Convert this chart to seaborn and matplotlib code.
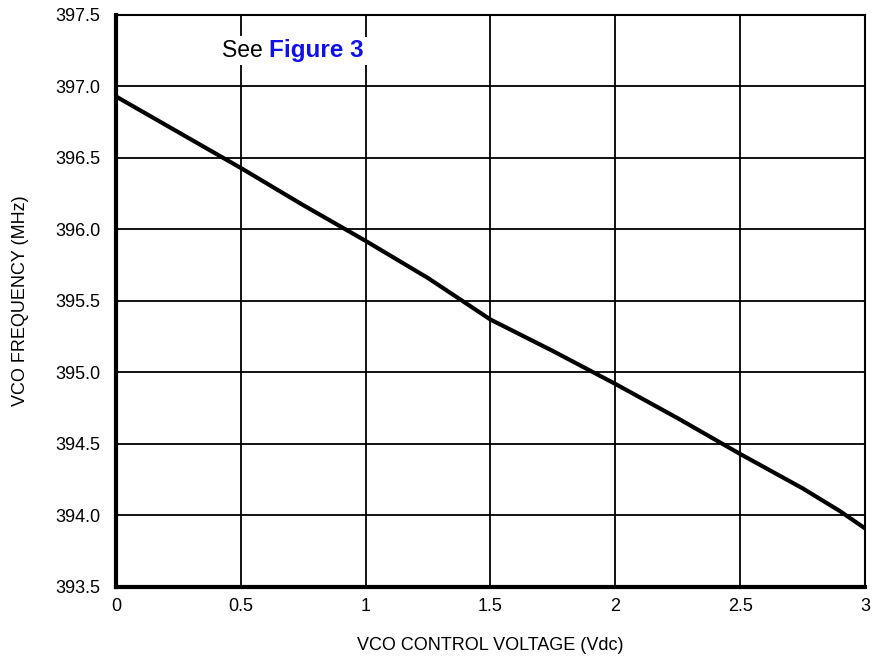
import numpy as np
import pandas as pd
import matplotlib
matplotlib.use("Agg")
import matplotlib.pyplot as plt
import seaborn as sns

# values
voltage = [0.0, 0.25, 0.5, 0.75, 1.0, 1.25, 1.5, 1.75, 2.0, 2.25, 2.5, 2.75, 2.9, 3.0]
frequency = [396.93, 396.68, 396.43, 396.17, 395.92, 395.66, 395.37, 395.15,
             394.92, 394.68, 394.43, 394.19, 394.03, 393.91]
x_ticks = [0, 0.5, 1, 1.5, 2, 2.5, 3]
x_tick_labels = ["0", "0.5", "1", "1.5", "2", "2.5", "3"]
y_ticks = [393.5, 394.0, 394.5, 395.0, 395.5, 396.0, 396.5, 397.0, 397.5]

df = pd.DataFrame({"voltage": voltage, "frequency": frequency})

sns.set_style("white")
plt.rcParams["font.family"] = ["Liberation Sans Narrow", "Liberation Sans", "DejaVu Sans"]
plt.rcParams["text.color"] = "black"
plt.rcParams["axes.labelcolor"] = "black"
plt.rcParams["xtick.color"] = "black"
plt.rcParams["ytick.color"] = "black"

fig = plt.figure(figsize=(8.74, 6.56), dpi=100)
ax = fig.add_axes([0.1327, 0.1052, 0.857, 0.872])

sns.lineplot(data=df, x="voltage", y="frequency", ax=ax, color="black",
             linewidth=3, zorder=3)

ax.set_xlim(0, 3)
ax.set_ylim(393.5, 397.5)
ax.set_xticks(x_ticks)
ax.set_xticklabels(x_tick_labels)
ax.set_yticks(y_ticks)
ax.set_yticklabels([f"{v:.1f}" for v in y_ticks])
ax.tick_params(axis="x", labelsize=13, length=0, pad=8)
ax.tick_params(axis="y", labelsize=13, length=0, pad=11)
ax.grid(True, color="black", linewidth=1.3)
ax.set_axisbelow(True)

for side in ["top", "right"]:
    ax.spines[side].set_linewidth(1.5)
    ax.spines[side].set_color("black")
for side in ["left", "bottom"]:
    ax.spines[side].set_linewidth(3)
    ax.spines[side].set_color("black")

ax.set_xlabel("VCO CONTROL VOLTAGE (Vdc)", fontsize=13, labelpad=16)
ax.set_ylabel("VCO FREQUENCY (MHz)", fontsize=13, labelpad=19)

# annotation with white background over the grid
t1 = ax.text(0.425, 397.25, "See ", fontsize=16.5, ha="left", va="center",
             bbox=dict(facecolor="white", edgecolor="none", pad=2), zorder=4)
fig.canvas.draw()
bb = t1.get_window_extent()
x_end = ax.transData.inverted().transform((bb.x1, bb.y0))[0]
ax.text(x_end, 397.25, "Figure 3", fontsize=17.5, ha="left", va="center",
        color="#1010e8", fontweight="bold",
        family=["Liberation Sans", "DejaVu Sans"],
        bbox=dict(facecolor="white", edgecolor="none", pad=2), zorder=4)

fig.savefig("out.png", dpi=100)
